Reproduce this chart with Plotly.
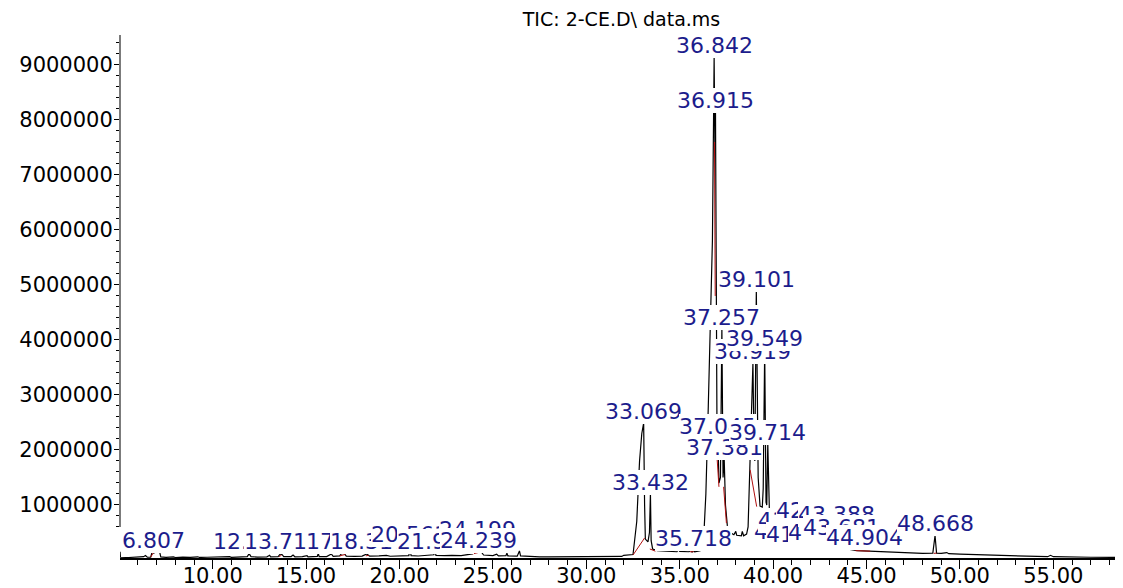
import plotly.graph_objects as go

title_text = "TIC: 2-CE.D\\ data.ms"

# chromatogram vertices (retention time in min, abundance)
rt = [5.04, 5.06, 5.5, 5.9, 6.0, 6.3, 6.4, 6.5, 6.68, 6.76, 6.85, 6.95, 7.05, 7.15, 7.22,
      7.5, 7.9, 8.0, 8.4, 8.8, 9.2, 9.3, 9.7, 10.2, 10.5, 10.9, 11.0, 11.5, 11.85, 11.95,
      12.05, 12.4, 12.9, 13.05, 13.1, 13.5, 13.62, 13.72, 13.8, 14.2, 14.3, 14.4, 14.8,
      15.05, 15.1, 15.6, 15.65, 15.7, 16.1, 16.35, 16.45, 16.8, 16.9, 17.05, 17.15, 17.6,
      18.0, 18.25, 18.4, 18.9, 19.3, 19.5, 20.0, 20.3, 20.5, 20.56, 20.62, 21.0, 21.4,
      21.84, 21.9, 21.95, 22.4, 22.8, 23.3, 23.6, 23.9, 24.1, 24.2, 24.35, 24.5, 25.0,
      25.2, 25.3, 25.7, 25.75, 25.8, 26.3, 26.42, 26.48, 27.0, 27.5, 28.0, 28.5, 29.0,
      29.5, 30.0, 30.5, 31.0, 31.5, 31.9, 32.0, 32.4, 32.5, 32.7, 32.85, 32.97, 33.069,
      33.12, 33.16, 33.3, 33.38, 33.432, 33.47, 33.55, 33.8, 34.3, 34.85, 34.93, 35.0,
      35.5, 35.6, 35.66, 35.72, 35.8, 36.1, 36.26, 36.4, 36.53, 36.65, 36.75, 36.842,
      36.88, 36.915, 36.96, 37.0, 37.045, 37.1, 37.18, 37.257, 37.32, 37.381, 37.45,
      37.55, 37.7, 37.9, 38.0, 38.05, 38.3, 38.35, 38.42, 38.58, 38.66, 38.78, 38.919,
      38.98, 39.02, 39.101, 39.2, 39.3, 39.42, 39.47, 39.549, 39.62, 39.66, 39.714, 39.8,
      39.9, 40.1, 40.5, 41.0, 41.2, 41.35, 41.7, 42.2, 42.35, 42.85, 43.0, 43.4, 43.55,
      43.7, 43.85, 44.1, 44.5, 44.9, 45.0, 45.5, 46.0, 47.0, 48.0, 48.55, 48.668, 48.75,
      49.0, 49.3, 49.4, 50.0, 52.0, 54.0, 54.7, 54.85, 55.0, 57.0, 58.73]
abundance = [150000, 50000, 45000, 52000, 45000, 60000, 80000, 50000, 52000, 150000,
             125000, 165000, 140000, 160000, 55000, 48000, 55000, 45000, 52000, 47000,
             58000, 46000, 50000, 55000, 47000, 60000, 48000, 55000, 60000, 115000, 60000,
             52000, 58000, 85000, 55000, 62000, 110000, 95000, 60000, 62000, 90000, 58000,
             60000, 80000, 58000, 65000, 120000, 60000, 62000, 110000, 65000, 75000,
             120000, 115000, 70000, 65000, 70000, 110000, 70000, 75000, 85000, 68000,
             75000, 70000, 80000, 230000, 80000, 72000, 80000, 95000, 190000, 85000,
             78000, 85000, 80000, 95000, 110000, 170000, 185000, 160000, 90000, 80000,
             105000, 75000, 80000, 125000, 75000, 70000, 165000, 75000, 62000, 58000,
             55000, 55000, 52000, 55000, 52000, 55000, 55000, 60000, 65000, 85000, 90000,
             100000, 700000, 1800000, 2300000, 2490000, 1000000, 380000, 330000, 500000,
             1210000, 350000, 200000, 170000, 160000, 150000, 190000, 155000, 150000,
             185000, 145000, 175000, 150000, 170000, 240000, 1200000, 2800000, 4200000,
             5800000, 9145000, 7600000, 8160000, 5000000, 2000000, 2220000, 1400000,
             1500000, 4200000, 1500000, 1840000, 1000000, 620000, 500000, 460000, 520000,
             450000, 440000, 520000, 440000, 470000, 600000, 2000000, 3580000, 2000000,
             1800000, 4910000, 1500000, 980000, 960000, 1300000, 3820000, 1050000,
             1000000, 2120000, 900000, 620000, 560000, 480000, 420000, 480000, 380000,
             340000, 420000, 300000, 280000, 250000, 300000, 240000, 260000, 220000,
             190000, 170000, 165000, 160000, 150000, 140000, 130000, 120000, 125000,
             445000, 125000, 120000, 135000, 115000, 105000, 85000, 65000, 60000, 85000,
             60000, 50000, 45000]

# integration baselines (red), segments separated by None
base_rt = [6.68, 6.82, None, 13.55, 13.68, None, 16.8, 17.1, None, 18.2, 18.35, None,
           23.9, 24.4, None, 32.5, 33.12, None, 33.4, 33.7, None, 35.55, 35.75, None,
           36.86, 36.9, None, 37.0, 37.1, None, 37.35, 37.5, None, 38.77, 39.12, None,
           44.4, 45.2, None, 48.6, 48.75]
base_ab = [52000, 130000, None, 62000, 85000, None, 75000, 100000, None, 75000, 85000, None,
           110000, 150000, None, 90000, 400000, None, 200000, 160000, None, 150000, 150000, None,
           7600000, 4800000, None, 1850000, 1330000, None, 1330000, 670000, None, 1640000, 970000, None,
           170000, 160000, None, 120000, 125000]

# peak labels: text, retention time, height of the label foot
label_text = ["6.807", "12.085", "13.714", "17.036", "18.317", "20.561", "21.906",
              "24.199", "24.239", "33.069", "33.432", "35.718", "36.842", "36.915",
              "37.045", "37.257", "37.381", "38.919", "39.101", "39.549", "39.714",
              "41.016", "41.231", "41.664", "42.193", "42.843", "43.388", "43.681",
              "44.904", "48.668"]
label_rt = [6.807, 12.085, 13.714, 17.036, 18.317, 20.561, 21.906, 24.199, 24.239,
            33.069, 33.432, 35.718, 36.842, 36.915, 37.045, 37.257, 37.381, 38.919,
            39.101, 39.549, 39.714, 41.016, 41.231, 41.664, 42.193, 42.843, 43.388,
            43.681, 44.904, 48.668]
label_level = [136000, 109000, 109000, 109000, 109000, 245000, 109000, 318000, 136000,
               2469000, 1182000, 170000, 9118000, 8136000, 2191000, 4173000, 1809000,
               3555000, 4873000, 3791000, 2091000, 282000, 482000, 245000, 664000,
               264000, 591000, 355000, 182000, 445000]

y_major = [1000000, 2000000, 3000000, 4000000, 5000000, 6000000, 7000000, 8000000, 9000000]
x_major = [10, 15, 20, 25, 30, 35, 40, 45, 50, 55]

fig = go.Figure()
fig.add_trace(go.Scatter(x=rt, y=abundance, mode="lines",
                         line=dict(color="black", width=1.2), hoverinfo="skip",
                         showlegend=False))
fig.add_trace(go.Scatter(x=base_rt, y=base_ab, mode="lines",
                         line=dict(color="#b01010", width=1), hoverinfo="skip",
                         showlegend=False, connectgaps=False))

label_font = dict(family="DejaVu Sans", size=22, color="#1c1c8c")
for txt, t, lv in zip(label_text, label_rt, label_level):
    fig.add_annotation(x=t, y=lv, text=txt, showarrow=False, xanchor="center",
                       yanchor="bottom", font=label_font, bgcolor="white",
                       borderpad=0, borderwidth=0)

minor_y = [v for v in range(600000, 9500001, 200000) if v % 1000000 != 0]

fig.add_shape(type="line", xref="paper", yref="y", x0=0, x1=0, y0=600000, y1=9545000,
              line=dict(color="#222222", width=1.2))

# the page body adds an 8 px offset, so the figure is sized to end at the window edge
fig.update_layout(
    width=1115, height=580,
    margin=dict(l=112, r=0, t=27, b=30, autoexpand=False),
    paper_bgcolor="white", plot_bgcolor="white",
    title=dict(text=title_text, x=0.5, xref="paper", y=1 - 11.5 / 580, yref="container",
               xanchor="center", yanchor="middle", automargin=False,
               font=dict(family="DejaVu Sans", size=19, color="black")),
    xaxis=dict(range=[5.037, 58.73], showline=True, linecolor="black", linewidth=1.5,
               automargin=False,
               ticks="outside", tickvals=x_major, tickformat=".2f", ticklen=9,
               ticklabelstandoff=-11,
               tickcolor="black", tickwidth=1.2,
               tickfont=dict(family="DejaVu Sans", size=21, color="black"),
               minor=dict(dtick=1, tick0=0, ticks="outside", ticklen=5, tickcolor="black",
                          tickwidth=1),
               showgrid=False, zeroline=False),
    yaxis=dict(range=[36000, 9545000], showline=False, ticks="outside", tickvals=y_major,
               automargin=False, ticklabelstandoff=-3,
               ticktext=[str(v) for v in y_major], ticklen=5, tickcolor="black",
               tickwidth=1.2,
               tickfont=dict(family="DejaVu Sans", size=21, color="black"),
               minor=dict(tickvals=minor_y, ticks="outside", ticklen=3, tickcolor="black",
                          tickwidth=1),
               showgrid=False, zeroline=False),
)

fig.write_html("out.html")
